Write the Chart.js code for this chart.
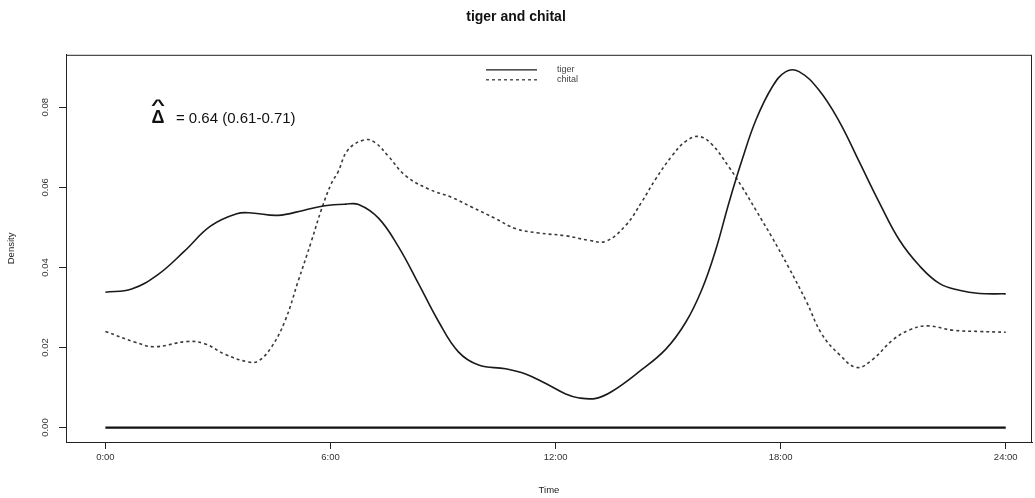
<!DOCTYPE html>
<html><head><meta charset="utf-8">
<script src="https://cdn.jsdelivr.net/npm/chart.js@4.4.1/dist/chart.umd.min.js"></script>
<style>html,body{margin:0;padding:0;background:#fff;overflow:hidden;} #wrap{width:1035px;height:498px;}</style>
</head><body><div id="wrap"><canvas id="c" width="1035" height="498"></canvas></div>
<script>
const tigerHours = [0, 0.7, 1.4, 2.1, 2.8, 3.5, 3.9, 4.6, 5.3, 5.85, 6.4, 6.75, 7.28, 7.81, 8.35, 8.88, 9.41, 9.95, 10.67, 11.2, 11.74, 12.27, 12.63, 13.08, 13.5, 14.22, 14.94, 15.47, 15.9, 16.27, 16.62, 16.97, 17.34, 17.77, 18.14, 18.49, 19.02, 19.56, 20.1, 20.63, 21.16, 21.7, 22.23, 22.76, 23.3, 24];
const tigerDensity = [0.0338, 0.0346, 0.0382, 0.044, 0.0503, 0.0534, 0.0536, 0.053, 0.0543, 0.0554, 0.0558, 0.0557, 0.0523, 0.0452, 0.0359, 0.0265, 0.0189, 0.0156, 0.0147, 0.0134, 0.011, 0.0084, 0.0074, 0.0073, 0.009, 0.0139, 0.0196, 0.0263, 0.0345, 0.0444, 0.0561, 0.0668, 0.0768, 0.085, 0.0889, 0.0889, 0.0843, 0.0765, 0.0663, 0.0562, 0.0469, 0.0404, 0.036, 0.0343, 0.0335, 0.0334];
const chitalHours = [0, 0.8, 1.3, 2.2, 2.66, 3.19, 3.8, 4.07, 4.42, 4.79, 5.14, 5.49, 5.76, 6.02, 6.2, 6.47, 6.93, 7.2, 7.54, 8.0, 8.61, 9.23, 9.76, 10.4, 10.93, 11.55, 12.27, 12.88, 13.33, 13.87, 14.3, 14.67, 15.1, 15.47, 15.82, 16.17, 16.62, 16.97, 17.34, 17.77, 18.22, 18.68, 19.1, 19.56, 20.03, 20.45, 20.99, 21.44, 21.9, 22.6, 23.3, 24];
const chitalDensity = [0.024, 0.0213, 0.0202, 0.0215, 0.0209, 0.0183, 0.0164, 0.0166, 0.02, 0.0267, 0.0366, 0.0465, 0.0545, 0.0609, 0.0638, 0.0694, 0.0719, 0.0711, 0.0678, 0.0629, 0.0596, 0.0575, 0.0551, 0.0522, 0.0497, 0.0486, 0.0479, 0.0468, 0.0465, 0.0505, 0.0564, 0.0621, 0.0678, 0.0715, 0.0727, 0.0707, 0.0651, 0.0601, 0.0543, 0.0475, 0.0399, 0.0316, 0.0233, 0.0183, 0.015, 0.017, 0.0219, 0.0244, 0.0254, 0.0243, 0.024, 0.0238];
const baseHours = [0, 24];
const baseDensity = [0, 0];
const xTickValues = [0, 6, 12, 18, 24];
const xTickLabels = ['0:00', '6:00', '12:00', '18:00', '24:00'];
const yTickValues = [0, 0.02, 0.04, 0.06, 0.08];
const yTickLabels = ['0.00', '0.02', '0.04', '0.06', '0.08'];
const seriesNames = ['tiger', 'chital'];
const titleText = 'tiger and chital';
const xTitle = 'Time';
const yTitle = 'Density';
const overlapSymbol = '\u0394';
const overlapText = '= 0.64 (0.61-0.71)';

const FONT = "'Liberation Sans', Arial, sans-serif";
const toPts = (xs, ys) => xs.map((x, i) => ({x: x, y: ys[i]}));

const decor = {
  id: 'decor',
  afterDraw(chart) {
    const ctx = chart.ctx, a = chart.chartArea;
    const ys = chart.scales.y;
    ctx.save();
    // box
    ctx.strokeStyle = '#222';
    ctx.lineWidth = 1;
    ctx.strokeRect(a.left + 0.5, a.top + 0.5, a.right - a.left - 1, a.bottom - a.top);
    // rotated y tick labels
    ctx.fillStyle = '#333';
    ctx.font = '9.5px ' + FONT;
    ctx.textAlign = 'center';
    ctx.textBaseline = 'middle';
    yTickValues.forEach((v, i) => {
      const py = ys.getPixelForValue(v);
      ctx.save();
      ctx.translate(a.left - 21, py);
      ctx.rotate(-Math.PI / 2);
      ctx.fillText(yTickLabels[i], 0, 0);
      ctx.restore();
    });
    // legend
    const cx = (a.left + a.right) / 2;
    const rows = [a.top + 15, a.top + 25];
    chart.data.datasets.slice(0, 2).forEach((ds, i) => {
      ctx.save();
      ctx.strokeStyle = ds.borderColor;
      ctx.lineWidth = 1.3;
      ctx.setLineDash(ds.borderDash || []);
      ctx.beginPath();
      ctx.moveTo(cx - 63, rows[i]);
      ctx.lineTo(cx - 12, rows[i]);
      ctx.stroke();
      ctx.restore();
      ctx.fillStyle = '#444';
      ctx.font = '9px ' + FONT;
      ctx.textAlign = 'left';
      ctx.textBaseline = 'middle';
      ctx.fillText(seriesNames[i], cx + 8, rows[i]);
    });
    // overlap annotation
    const ax = chart.scales.x.getPixelForValue(1.4);
    const ay = ys.getPixelForValue(0.0775);
    ctx.fillStyle = '#111';
    ctx.textBaseline = 'alphabetic';
    ctx.textAlign = 'center';
    ctx.font = 'bold 18px ' + FONT;
    ctx.fillText(overlapSymbol, ax, ay + 6);
    ctx.font = 'bold 15px ' + FONT;
    ctx.save();
    ctx.translate(ax, ay - 7);
    ctx.scale(1.6, 1);
    ctx.fillText('^', 0, 0);
    ctx.restore();
    ctx.textAlign = 'left';
    ctx.font = '15px ' + FONT;
    ctx.fillText(overlapText, ax + 18, ay + 6);
    ctx.restore();
  }
};

new Chart(document.getElementById('c'), {
  type: 'line',
  data: {
    datasets: [
      {label: seriesNames[0], data: toPts(tigerHours, tigerDensity), borderColor: '#1a1a1a', borderWidth: 1.6, pointRadius: 0, tension: 0.4, fill: false},
      {label: seriesNames[1], data: toPts(chitalHours, chitalDensity), borderColor: '#3a3a3a', borderWidth: 1.6, borderDash: [3, 3], pointRadius: 0, tension: 0.4, fill: false},
      {label: 'base', data: toPts(baseHours, baseDensity), borderColor: '#111', borderWidth: 2.2, pointRadius: 0, fill: false}
    ]
  },
  options: {
    responsive: false,
    animation: false,
    devicePixelRatio: 1,
    layout: {padding: {left: 0, right: 3, top: 0, bottom: 0}},
    plugins: {
      legend: {display: false},
      tooltip: {enabled: false},
      title: {display: true, text: titleText, color: '#111', font: {family: FONT, size: 14, weight: 'bold'}, padding: {top: 9, bottom: 29}}
    },
    scales: {
      x: {
        type: 'linear', min: -1.05, max: 24.7,
        afterBuildTicks: s => { s.ticks = xTickValues.map(v => ({value: v})); },
        afterFit: s => { s.height = 56; },
        ticks: {callback: v => xTickLabels[xTickValues.indexOf(v)], color: '#333', font: {family: FONT, size: 9.5}, maxRotation: 0, autoSkip: false, padding: 3},
        grid: {display: true, drawOnChartArea: false, drawTicks: true, tickLength: 7, color: '#222', lineWidth: 1},
        border: {display: true, color: '#222', width: 1},
        title: {display: true, text: xTitle, color: '#222', font: {family: FONT, size: 9.5}, padding: {top: 0, bottom: 2}}
      },
      y: {
        type: 'linear', min: -0.0036, max: 0.0931,
        afterBuildTicks: s => { s.ticks = yTickValues.map(v => ({value: v})); },
        afterFit: s => { s.width = 66; },
        ticks: {display: false},
        grid: {display: true, drawOnChartArea: false, drawTicks: true, tickLength: 7, color: '#222', lineWidth: 1},
        border: {display: true, color: '#222', width: 1},
        title: {display: true, text: yTitle, color: '#222', font: {family: FONT, size: 9.5}, padding: {top: 6, bottom: 0}}
      }
    }
  },
  plugins: [decor]
});
</script>
</body></html>
